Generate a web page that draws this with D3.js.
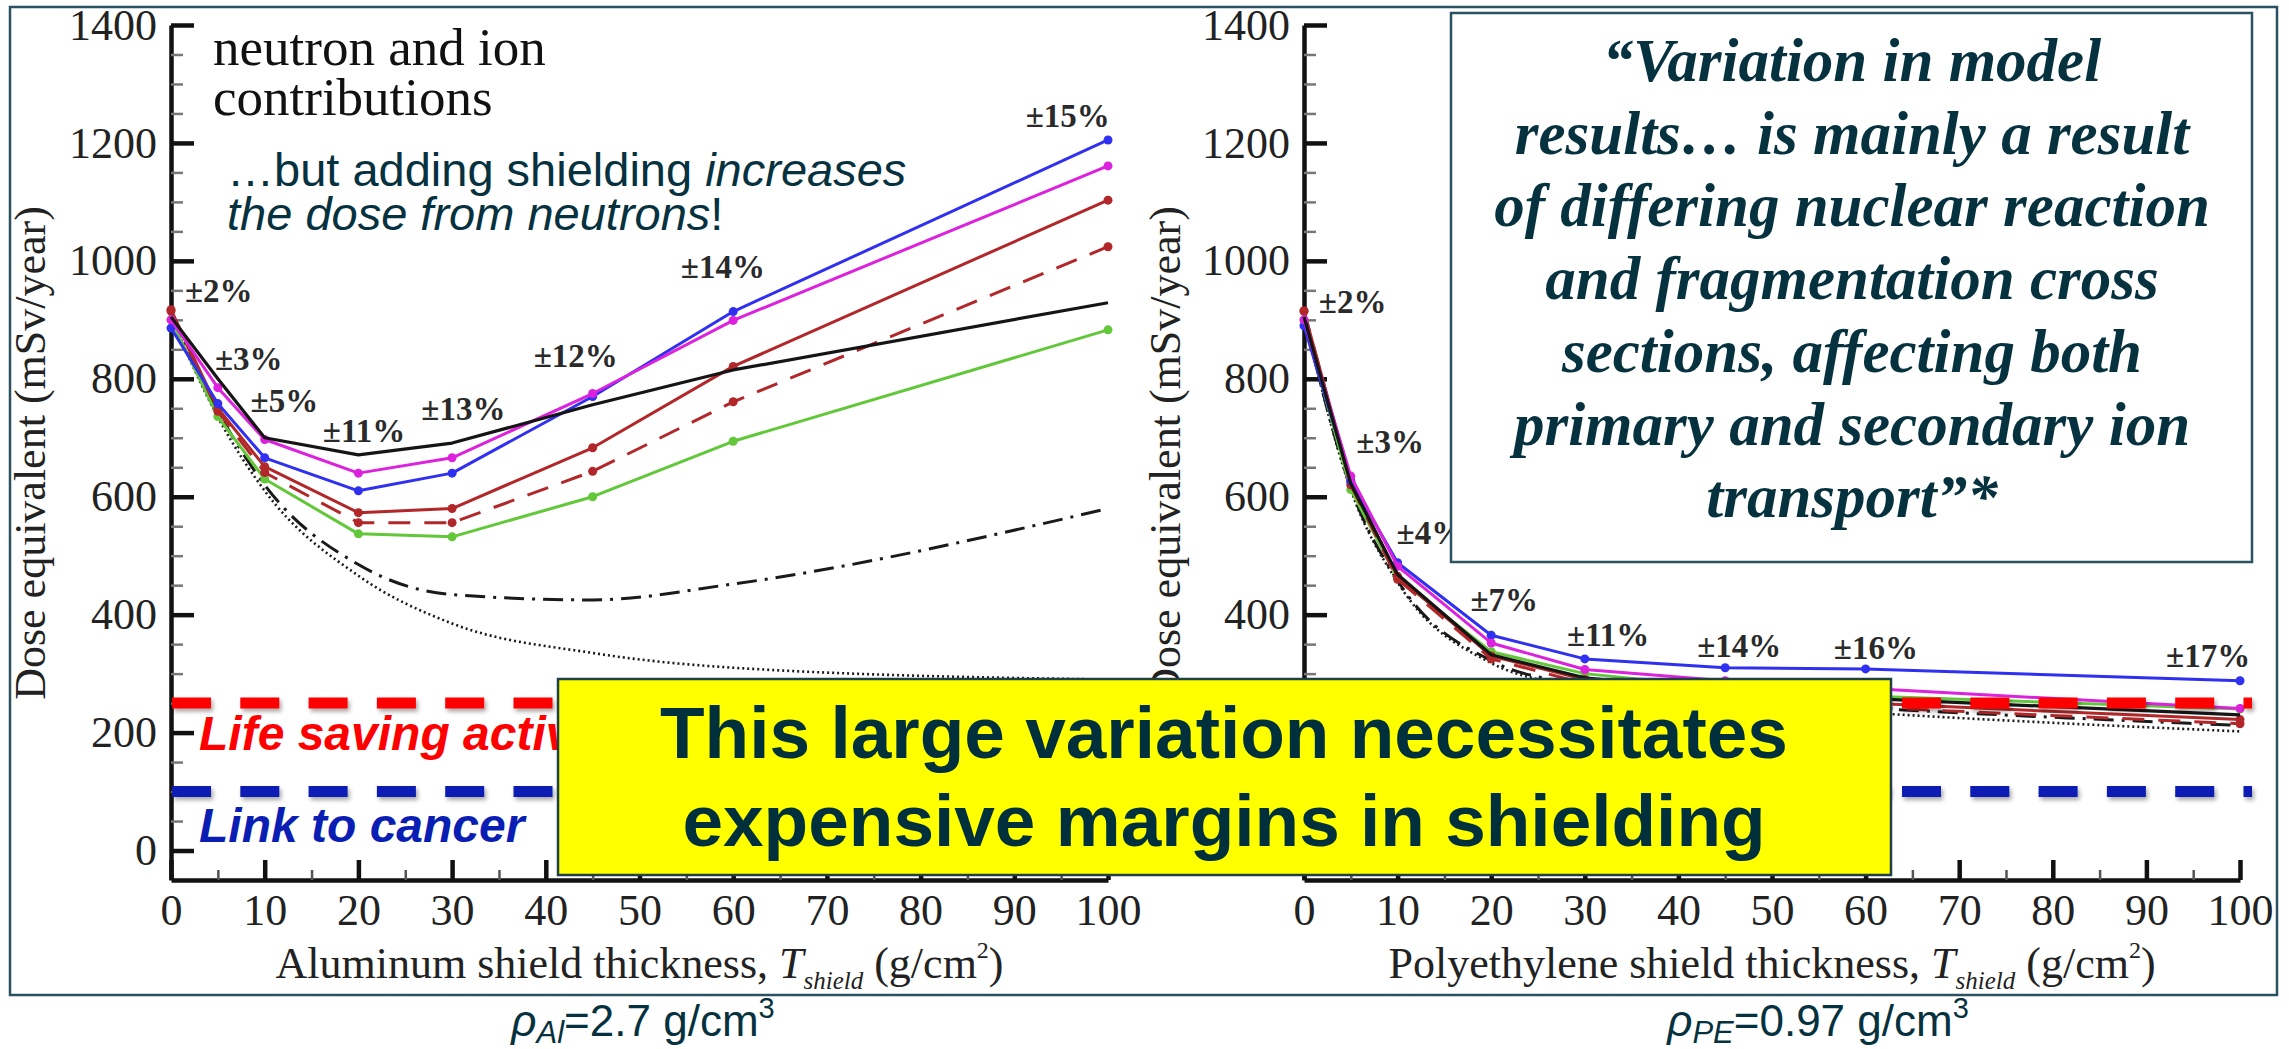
<!DOCTYPE html>
<html>
<head>
<meta charset="utf-8">
<script src="https://cdn.jsdelivr.net/npm/d3@7"></script>
<style>
  body { margin: 0; background: #fff; }
  text { font-family: "Liberation Serif", "Times New Roman", serif; }
  .sans { font-family: "Liberation Sans", Arial, sans-serif; }
</style>
</head>
<body>
<svg id="chart" width="2289" height="1049"></svg>
<script>
// shield thickness (g/cm2) where the models were evaluated
const thickness = [0, 5, 10, 20, 30, 45, 60, 100];

// aluminum shield, dose equivalent (mSv/year)
const alBlue     = [886, 758, 666, 610, 640, 770, 914, 1205];
const alMagenta  = [900, 785, 697, 640, 666, 775, 899, 1161];
const alRed      = [917, 750, 651, 573, 580, 683, 821, 1103];
const alRedDash  = [915, 745, 641, 556, 556, 643, 761, 1024];
const alGreen    = [900, 736, 630, 537, 532, 600, 694, 883];
const alBlack    = [905, 800, 700, 671, 691, 756, 815, 929];
const alDashDot  = [905, 745, 620, 485, 434, 425, 452, 580];
const alDotted   = [905, 735, 610, 466, 385, 335, 310, 290];

// polyethylene shield, dose equivalent (mSv/year)
const peBlue     = [890, 627, 488, 365, 325, 310, 308, 288];
const peMagenta  = [900, 635, 482, 352, 307, 288, 275, 241];
const peRed      = [915, 625, 465, 330, 290, 265, 250, 222];
const peRedDash  = [915, 620, 460, 325, 283, 258, 243, 215];
const peGreen    = [900, 612, 462, 337, 300, 276, 262, 240];
const peBlack    = [905, 622, 468, 332, 293, 270, 258, 230];
const peDashDot  = [905, 615, 458, 322, 280, 256, 242, 212];
const peDotted   = [905, 612, 455, 318, 276, 250, 234, 202];

// spread between models, with the [thickness, dose] spot each label sits at
const alPctLabels = ['±2%', '±3%', '±5%', '±11%', '±13%', '±12%', '±14%', '±15%'];
const alPctAt = [[5.1, 930], [8.3, 815], [12.1, 744], [20.6, 692], [31.2, 730], [43.2, 820], [58.9, 971], [95.7, 1227]];
const pePctLabels = ['±2%', '±3%', '±4%', '±7%', '±11%', '±14%', '±16%', '±17%'];
const pePctAt = [[5.2, 912], [9.2, 675], [13.5, 520], [21.4, 407], [32.5, 346], [46.5, 329], [61.1, 325], [96.6, 312]];

const yTicks = [0, 200, 400, 600, 800, 1000, 1200, 1400];
const yMinor = d3.range(0, 1400, 50).filter(v => v % 200 !== 0);
const xTicks = [0, 10, 20, 30, 40, 50, 60, 70, 80, 90, 100];
const xMinor = [5, 15, 25, 35, 45, 55, 65, 75, 85, 95];

// dose limits drawn across both panels
const limitNames = ['Life saving activities', 'Link to cancer'];
const limitDose = [250, 100];

const quoteLines = [
  '\u201cVariation in model',
  'results\u2026 is mainly a result',
  'of differing nuclear reaction',
  'and fragmentation cross',
  'sections, affecting both',
  'primary and secondary ion',
  'transport\u201d*'
];

const teal = '#06323f';
const svg = d3.select('#chart');

svg.append('rect').attr('width', 2289).attr('height', 1049).attr('fill', '#fff');
svg.append('rect')
  .attr('x', 10).attr('y', 7).attr('width', 2267).attr('height', 988)
  .attr('fill', 'none').attr('stroke', '#2a5260').attr('stroke-width', 2.5);

const defs = svg.append('defs');
defs.append('filter').attr('id', 'shadow')
  .attr('filterUnits', 'userSpaceOnUse')
  .attr('x', 0).attr('y', 0).attr('width', 2289).attr('height', 1049)
  .append('feDropShadow')
  .attr('dx', 2).attr('dy', 3).attr('stdDeviation', 2)
  .attr('flood-color', '#000').attr('flood-opacity', 0.35);

const styles = [
  {name: 'dotted',  color: '#1a1a1a', width: 2.6, dash: '2,3',      smooth: true,  dots: false},
  {name: 'dashdot', color: '#1a1a1a', width: 3,   dash: '20,8,3,8', smooth: true,  dots: false},
  {name: 'green',   color: '#62c83a', width: 3,   dash: null,       smooth: false, dots: true},
  {name: 'redDash', color: '#b2282a', width: 3,   dash: '22,14',    smooth: false, dots: true},
  {name: 'red',     color: '#b2282a', width: 3,   dash: null,       smooth: false, dots: true},
  {name: 'blue',    color: '#3030f0', width: 3,   dash: null,       smooth: false, dots: true},
  {name: 'magenta', color: '#dd22dd', width: 3,   dash: null,       smooth: false, dots: true},
  {name: 'black',   color: '#151515', width: 3.2, dash: null,       smooth: false, dots: false}
];

const panels = [
  {
    xRange: [171, 1108],
    series: {dotted: alDotted, dashdot: alDashDot, green: alGreen, redDash: alRedDash,
             red: alRed, blue: alBlue, magenta: alMagenta, black: alBlack},
    pct: alPctLabels, pctAt: alPctAt,
    title: 'Aluminum shield thickness, ', yTitleX: 45,
    sub: 'Al', density: '=2.7 g/cm', densityX: 643
  },
  {
    xRange: [1304, 2240],
    series: {dotted: peDotted, dashdot: peDashDot, green: peGreen, redDash: peRedDash,
             red: peRed, blue: peBlue, magenta: peMagenta, black: peBlack},
    pct: pePctLabels, pctAt: pePctAt,
    title: 'Polyethylene shield thickness, ', yTitleX: 1180,
    sub: 'PE', density: '=0.97 g/cm', densityX: 1818
  }
];

const y = d3.scaleLinear().domain([-50, 1400]).range([880, 25]);

panels.forEach(p => {
  const x = d3.scaleLinear().domain([0, 100]).range(p.xRange);
  p.x = x;
  const g = svg.append('g');

  // y axis
  const yAxis = g.append('g').attr('transform', `translate(${x(0)},0)`)
    .call(d3.axisLeft(y).tickValues(yTicks).tickFormat(d3.format('d'))
      .tickSize(-23).tickSizeOuter(0).tickPadding(14));
  yAxis.select('.domain').attr('stroke', '#111').attr('stroke-width', 4.5);
  yAxis.selectAll('.tick line').attr('stroke', '#111').attr('stroke-width', 4.5);
  yAxis.selectAll('.tick text')
    .attr('font-family', '"Liberation Serif", serif').attr('font-size', 44).attr('fill', '#222');
  g.append('g').attr('transform', `translate(${x(0)},0)`)
    .call(d3.axisLeft(y).tickValues(yMinor).tickSize(-12).tickFormat(''))
    .call(a => a.select('.domain').remove())
    .selectAll('.tick line').attr('stroke', '#777').attr('stroke-width', 2.5);

  // x axis
  const xAxis = g.append('g').attr('transform', `translate(0,${y(-50)})`)
    .call(d3.axisBottom(x).tickValues(xTicks).tickFormat(d3.format('d'))
      .tickSize(-20).tickSizeOuter(0).tickPadding(14));
  xAxis.select('.domain').attr('stroke', '#111').attr('stroke-width', 4.5);
  xAxis.selectAll('.tick line').attr('stroke', '#111').attr('stroke-width', 4.5);
  xAxis.selectAll('.tick text')
    .attr('font-family', '"Liberation Serif", serif').attr('font-size', 44).attr('fill', '#222');
  g.append('g').attr('transform', `translate(0,${y(-50)})`)
    .call(d3.axisBottom(x).tickValues(xMinor).tickSize(-10).tickFormat(''))
    .call(a => a.select('.domain').remove())
    .selectAll('.tick line').attr('stroke', '#555').attr('stroke-width', 2.5);

  // axis titles
  g.append('text')
    .attr('transform', `translate(${p.yTitleX},453) rotate(-90)`)
    .attr('text-anchor', 'middle').attr('font-size', 44).attr('fill', '#222')
    .text('Dose equivalent (mSv/year)');

  const xt = g.append('text')
    .attr('x', (p.xRange[0] + p.xRange[1]) / 2).attr('y', 978)
    .attr('text-anchor', 'middle').attr('font-size', 44).attr('fill', '#222');
  xt.append('tspan').text(p.title);
  xt.append('tspan').attr('font-style', 'italic').text('T');
  xt.append('tspan').attr('font-style', 'italic').attr('font-size', 25).attr('dy', 11).text('shield');
  xt.append('tspan').attr('dy', -11).text(' (g/cm');
  xt.append('tspan').attr('font-size', 24).attr('dy', -20).text('2');
  xt.append('tspan').attr('dy', 20).text(')');

  // model curves
  styles.forEach(s => {
    const vals = p.series[s.name];
    const pts = thickness.map((t, i) => [t, vals[i]]);
    const line = d3.line()
      .x(d => x(d[0])).y(d => y(d[1]))
      .curve(s.smooth ? d3.curveMonotoneX : d3.curveLinear);
    g.append('path').datum(pts)
      .attr('d', line)
      .attr('fill', 'none')
      .attr('stroke', s.color)
      .attr('stroke-width', s.width)
      .attr('stroke-dasharray', s.dash)
      .attr('stroke-linejoin', 'round');
    if (s.dots) {
      g.selectAll(null).data(pts).enter().append('circle')
        .attr('cx', d => x(d[0])).attr('cy', d => y(d[1]))
        .attr('r', 4.5).attr('fill', s.color);
    }
  });

  // spread labels
  g.selectAll(null).data(p.pct).enter().append('text')
    .attr('x', (d, i) => x(p.pctAt[i][0]))
    .attr('y', (d, i) => y(p.pctAt[i][1]))
    .attr('text-anchor', 'middle')
    .attr('font-size', 33).attr('font-weight', 'bold').attr('fill', '#2a2a2a')
    .text(d => d);

  // material density under the panel
  const dt = svg.append('text').attr('class', 'sans')
    .attr('x', p.densityX).attr('y', 1036)
    .attr('text-anchor', 'middle').attr('font-size', 44).attr('fill', teal);
  dt.append('tspan').attr('font-style', 'italic').text('\u03c1');
  dt.append('tspan').attr('font-style', 'italic').attr('font-size', 31).attr('dy', 7).text(p.sub);
  dt.append('tspan').attr('dy', -7).text(p.density);
  dt.append('tspan').attr('font-size', 29).attr('dy', -18).text('3');
});

// left panel notes
const note = svg.append('text').attr('font-size', 53).attr('fill', '#111');
note.append('tspan').attr('x', 213).attr('y', 65).text('neutron and ion');
note.append('tspan').attr('x', 213).attr('y', 115).text('contributions');

const note2 = svg.append('text').attr('class', 'sans').attr('font-size', 47).attr('fill', teal);
note2.append('tspan').attr('x', 227).attr('y', 186).text('\u2026but adding shielding ');
note2.append('tspan').attr('font-style', 'italic').text('increases');
note2.append('tspan').attr('x', 227).attr('y', 230).attr('font-style', 'italic').text('the dose from neutrons');
note2.append('tspan').text('!');

// dose limit lines, split around the yellow call-out
const left = panels[0].x, right = panels[1].x;
const limitColors = ['#ff0000', '#0a1eb4'];
const segments = [[left(0) + 1, 1890], [1902, right(100) + 12]];
limitDose.forEach((v, i) => {
  segments.forEach(seg => {
    svg.append('line')
      .attr('x1', seg[0]).attr('x2', seg[1])
      .attr('y1', y(v)).attr('y2', y(v))
      .attr('stroke', limitColors[i]).attr('stroke-width', 11)
      .attr('stroke-dasharray', '39,29.3')
      .attr('filter', 'url(#shadow)');
  });
  svg.append('text').attr('class', 'sans')
    .attr('x', 199).attr('y', y(v) + (i === 0 ? 47 : 50))
    .attr('font-size', 48).attr('font-weight', 'bold').attr('font-style', 'italic')
    .attr('fill', limitColors[i])
    .text(limitNames[i]);
});

// yellow call-out
svg.append('rect')
  .attr('x', 558).attr('y', 679).attr('width', 1333).attr('height', 196)
  .attr('fill', '#ffff00').attr('stroke', '#1f3f4a').attr('stroke-width', 2.5);
const call = svg.append('text').attr('class', 'sans')
  .attr('text-anchor', 'middle').attr('font-size', 73).attr('font-weight', 'bold').attr('fill', '#00303c');
call.append('tspan').attr('x', 1224).attr('y', 758).text('This large variation necessitates');
call.append('tspan').attr('x', 1224).attr('y', 846).text('expensive margins in shielding');

// quote box
svg.append('rect')
  .attr('x', 1451).attr('y', 13).attr('width', 801).attr('height', 549)
  .attr('fill', '#fff').attr('stroke', '#2a5260').attr('stroke-width', 2.5);
svg.append('text')
  .attr('text-anchor', 'middle').attr('font-size', 61)
  .attr('font-weight', 'bold').attr('font-style', 'italic').attr('fill', teal)
  .selectAll('tspan').data(quoteLines).enter().append('tspan')
  .attr('x', 1852).attr('y', (d, i) => 81 + i * 72.7)
  .text(d => d);
</script>
</body>
</html>
